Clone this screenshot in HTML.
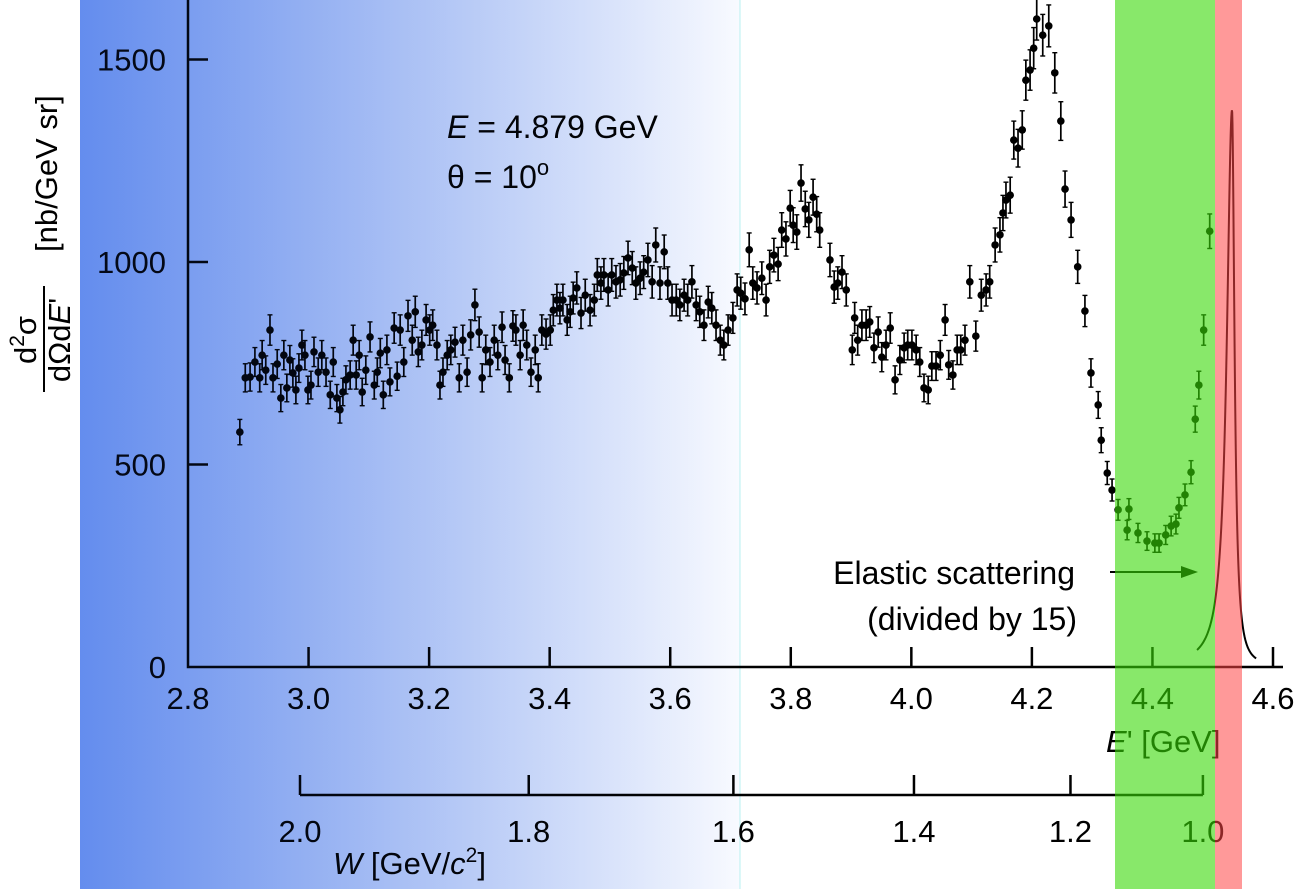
<!DOCTYPE html>
<html><head><meta charset="utf-8"><style>
html,body{margin:0;padding:0;background:#fff;}
svg{display:block;font-family:"Liberation Sans",sans-serif;}
</style></head><body>
<svg id="chart" width="1304" height="889" viewBox="0 0 1304 889" xmlns="http://www.w3.org/2000/svg">
<defs>
<linearGradient id="blueGrad" x1="0" x2="1" y1="0" y2="0">
<stop offset="0" stop-color="#6d95f2"/>
<stop offset="0.45" stop-color="#adc3f6"/>
<stop offset="1" stop-color="#f8faff"/>
</linearGradient>
<linearGradient id="blueTint" x1="0" x2="1" y1="0" y2="0">
<stop offset="0" stop-color="#2050d0" stop-opacity="0.12"/>
<stop offset="1" stop-color="#2050d0" stop-opacity="0.0"/>
</linearGradient>
</defs>
<rect x="80" y="0" width="660" height="889" fill="url(#blueGrad)"/>
<line x1="740" y1="0" x2="740" y2="889" stroke="#b8f0f0" stroke-width="1"/>
<g id="marks"></g>
<g id="axes" stroke="#000" stroke-width="2.5" fill="none"></g>
<g id="labels" font-size="31" fill="#000"></g>
<text x="447" y="138" font-size="32"><tspan font-style="italic">E</tspan> = 4.879 GeV</text>
<text x="447" y="188" font-size="32">θ = 10<tspan font-size="22" dy="-13">o</tspan></text>
<text x="1075" y="584" font-size="32" text-anchor="end">Elastic scattering</text>
<text x="1077" y="630" font-size="32" text-anchor="end">(divided by 15)</text>
<line x1="1110" y1="572" x2="1185" y2="572" stroke="#000" stroke-width="2"/>
<polygon points="1198,572 1181,566 1181,578" fill="#000"/>
<text x="1106" y="752" font-size="31"><tspan font-style="italic">E</tspan>' [GeV]</text>
<text x="333" y="874" font-size="31"><tspan font-style="italic">W</tspan> [GeV/<tspan font-style="italic">c</tspan><tspan font-size="21" dy="-12">2</tspan><tspan dy="12">]</tspan></text>
<g>
<text transform="translate(57,252) rotate(-90)" font-size="31">[nb/GeV sr]</text>
<text transform="translate(36,340) rotate(-90)" font-size="31" text-anchor="middle">d<tspan font-size="21" dy="-12">2</tspan><tspan dy="12">σ</tspan></text>
<line x1="44" y1="286" x2="44" y2="392" stroke="#000" stroke-width="2"/>
<text transform="translate(70,340) rotate(-90)" font-size="31" text-anchor="middle">dΩd<tspan font-style="italic">E</tspan>'</text>
</g>
<rect x="80" y="0" width="660" height="889" fill="url(#blueTint)"/>
<rect x="1115" y="0" width="100" height="889" fill="rgb(57,217,7)" fill-opacity="0.6"/>
<rect x="1215" y="0" width="27" height="889" fill="rgb(255,70,70)" fill-opacity="0.55"/>
</svg>
<script>
const ePrime=[2.886,2.895,2.903,2.911,2.919,2.923,2.929,2.936,2.941,2.948,2.954,2.959,2.964,2.969,2.974,2.979,2.984,2.989,2.994,2.999,3.004,3.009,3.016,3.022,3.029,3.036,3.041,3.047,3.052,3.057,3.062,3.069,3.074,3.079,3.084,3.089,3.095,3.102,3.109,3.114,3.119,3.124,3.130,3.135,3.142,3.147,3.152,3.158,3.165,3.172,3.177,3.182,3.188,3.195,3.201,3.206,3.213,3.218,3.223,3.230,3.236,3.243,3.250,3.256,3.263,3.269,3.276,3.283,3.288,3.294,3.301,3.308,3.314,3.321,3.326,3.333,3.339,3.344,3.351,3.356,3.362,3.369,3.376,3.381,3.387,3.394,3.401,3.406,3.412,3.417,3.422,3.429,3.434,3.439,3.445,3.452,3.459,3.467,3.474,3.479,3.485,3.490,3.497,3.503,3.510,3.517,3.523,3.530,3.537,3.543,3.550,3.556,3.563,3.570,3.576,3.583,3.590,3.596,3.603,3.610,3.616,3.623,3.629,3.636,3.643,3.649,3.656,3.663,3.669,3.676,3.683,3.689,3.696,3.704,3.711,3.717,3.724,3.731,3.737,3.744,3.752,3.759,3.765,3.772,3.779,3.785,3.792,3.799,3.804,3.810,3.817,3.824,3.830,3.837,3.843,3.848,3.865,3.872,3.878,3.885,3.892,3.902,3.906,3.911,3.918,3.925,3.931,3.938,3.945,3.951,3.958,3.965,3.973,3.981,3.988,3.994,4.001,4.008,4.014,4.021,4.028,4.034,4.041,4.048,4.056,4.062,4.069,4.076,4.082,4.089,4.097,4.107,4.116,4.124,4.130,4.139,4.147,4.152,4.157,4.164,4.170,4.177,4.184,4.190,4.197,4.203,4.208,4.218,4.228,4.238,4.248,4.255,4.265,4.276,4.288,4.298,4.310,4.315,4.325,4.333,4.343,4.358,4.361,4.376,4.391,4.404,4.411,4.422,4.431,4.439,4.444,4.454,4.464,4.471,4.477,4.485,4.495];
const crossSection=[580,714,716,753,714,770,733,832,714,748,664,770,689,758,726,684,738,795,770,684,696,778,728,770,728,672,753,664,635,679,709,721,807,721,770,679,733,815,696,728,775,672,783,704,837,718,832,753,867,807,877,778,795,857,832,844,795,696,728,770,783,802,714,807,728,820,894,827,714,783,753,807,770,839,758,714,842,832,770,844,795,728,783,714,832,822,832,881,906,886,906,857,877,911,936,874,918,881,906,968,948,968,931,968,951,956,973,1010,985,948,960,975,1005,951,1042,948,1025,948,906,906,894,918,906,951,894,877,844,901,886,844,807,795,832,862,931,923,909,1030,948,936,960,906,988,1017,995,1079,1057,1133,1091,1074,1195,1131,1104,1160,1118,1079,1005,938,948,975,931,783,862,807,844,844,852,788,827,765,795,837,709,758,788,795,795,783,753,689,684,743,743,770,857,746,721,783,783,807,951,817,918,931,951,1042,1067,1121,1153,1165,1301,1281,1326,1449,1474,1528,1600,1560,1583,1467,1348,1180,1104,988,879,726,647,560,479,437,388,338,390,331,311,306,306,326,348,353,393,425,481,612,696,832,1076];
const xTicks=[2.8,3.0,3.2,3.4,3.6,3.8,4.0,4.2,4.4,4.6];
const xTickLabels=["2.8","3.0","3.2","3.4","3.6","3.8","4.0","4.2","4.4","4.6"];
const yTicks=[0,500,1000,1500];
const yTickLabels=["0","500","1000","1500"];
const wTicks=[2.0,1.8,1.6,1.4,1.2,1.0];
const wTickLabels=["2.0","1.8","1.6","1.4","1.2","1.0"];
const elasticPeak=[4.532,1375];
const elasticWidths=[0.0103,0.005];
const elasticRange=[4.474,4.572];

const NS="http://www.w3.org/2000/svg";
const X=e=>188+(e-2.8)/1.8*1085;
const Y=v=>667-v/500*202.5;
const wToE=w=>4.983-0.4993*w*w;
function mk(tag,attrs,parent){const el=document.createElementNS(NS,tag);for(const k in attrs)el.setAttribute(k,attrs[k]);parent.appendChild(el);return el;}
const marks=document.getElementById('marks');
const axes=document.getElementById('axes');
const labels=document.getElementById('labels');

let d="";
for(let i=0;i<=200;i++){
  const e=elasticRange[0]+(elasticRange[1]-elasticRange[0])*i/200;
  const g=e<elasticPeak[0]?elasticWidths[0]:elasticWidths[1];
  const v=elasticPeak[1]/(1+Math.pow((e-elasticPeak[0])/g,2));
  d+=(i?"L":"M")+X(e).toFixed(2)+","+Y(v).toFixed(2);
}
const ec=mk('path',{d:d,fill:'none',stroke:'#000','stroke-width':2},marks);



for(let i=0;i<ePrime.length;i++){
  const v=crossSection[i];
  const err=Math.sqrt(v)*1.3;
  const x=X(ePrime[i]);
  const g=mk('g',{},marks);
  
  
  mk('line',{x1:x,x2:x,y1:Y(v-err),y2:Y(v+err),stroke:'#000','stroke-width':1.7},g);
  mk('line',{x1:x-2.5,x2:x+2.5,y1:Y(v-err),y2:Y(v-err),stroke:'#000','stroke-width':1.4},g);
  mk('line',{x1:x-2.5,x2:x+2.5,y1:Y(v+err),y2:Y(v+err),stroke:'#000','stroke-width':1.4},g);
  mk('circle',{cx:x,cy:Y(v),r:3.8,fill:'#000'},g);
}

const xa=mk('path',{d:`M${X(2.8)},0 L${X(2.8)},${Y(0)} L${X(4.6)+10},${Y(0)}`},axes);


xTicks.forEach((t,i)=>{
  const x=X(t);
  if(i>0){const tl=mk('line',{x1:x,x2:x,y1:Y(0),y2:Y(0)-20},axes);
  
  }
  const tx=mk('text',{x:x,y:709,'text-anchor':'middle'},labels);
  tx.textContent=xTickLabels[i];
  
  
});
yTicks.forEach((t,i)=>{
  const y=Y(t);
  if(i>0){const tl=mk('line',{x1:X(2.8),x2:X(2.8)+20,y1:y,y2:y},axes);
  
  }
  const tx=mk('text',{x:166,y:y+11,'text-anchor':'end'},labels);
  tx.textContent=yTickLabels[i];
  
  
});
const wy=795;
const wl=mk('line',{x1:X(wToE(wTicks[0])),x2:X(wToE(wTicks[wTicks.length-1])),y1:wy,y2:wy},axes);


wTicks.forEach((w,i)=>{
  const x=X(wToE(w));
  const tl=mk('line',{x1:x,x2:x,y1:wy,y2:wy-20},axes);
  
  
  const tx=mk('text',{x:x,y:842,'text-anchor':'middle'},labels);
  tx.textContent=wTickLabels[i];
  
  
});
</script>
</body></html>
